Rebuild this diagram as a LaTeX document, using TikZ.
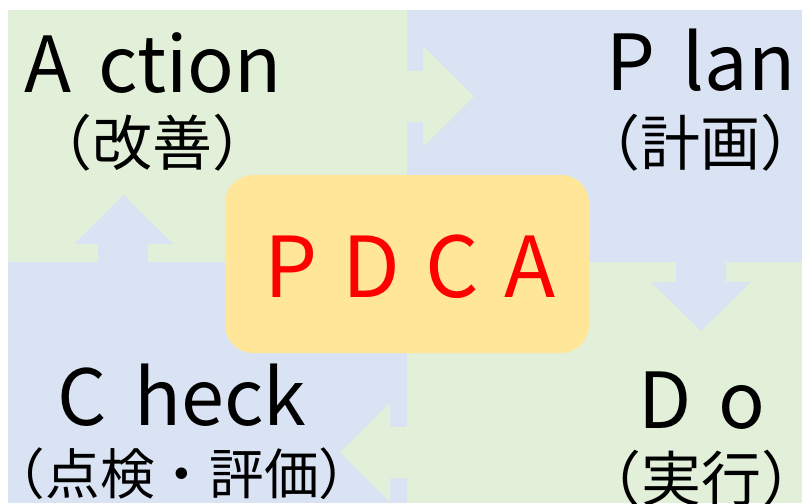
\documentclass[tikz,border=0pt]{standalone}
\usepackage{fontspec}
\setmainfont{Noto Sans CJK JP}
\usetikzlibrary{positioning}
\definecolor{actgreen}{HTML}{E2F0D9}
\definecolor{planblue}{HTML}{DAE3F3}
\definecolor{pdcayellow}{HTML}{FFE699}
\tikzset{
    x=0.75pt,
    y=-0.75pt,
    greenpart/.style = {
        fill=actgreen
    },
    bluepart/.style = {
        fill=planblue
    },
    title/.style = {
        anchor=base,
        inner sep=0pt,
        font=\fontsize{58}{62}\selectfont
    },
    subtitle/.style = {
        anchor=base,
        inner sep=0pt,
        font=\fontsize{45}{50}\selectfont
    },
    centerbox/.style = {
        shape=rectangle,
        fill=pdcayellow,
        rounded corners=21pt,
        minimum width=273pt,
        minimum height=133.5pt
    },
    pdcatext/.style = {
        inner sep=0pt,
        text=red,
        font=\fontsize{63}{67}\selectfont
    },
}

\begin{document}
\begin{tikzpicture}
                \useasboundingbox (0,0) rectangle (802,503);
                % four quarters
                \fill[greenpart] (8,10) rectangle (407,262);
                \fill[bluepart] (407,10) rectangle (802,262);
                \fill[bluepart] (8,262) rectangle (407,503);
                \fill[greenpart] (407,262) rectangle (802,503);

                % block arrows
                \fill[greenpart] (400,71) -- (423,71) -- (423,46) -- (474,96.5)
                -- (423,147) -- (423,122) -- (400,122) -- cycle;
                \fill[bluepart] (676,255) -- (676,282) -- (651,282) -- (701,331)
                -- (751,282) -- (726,282) -- (726,255) -- cycle;
                \fill[greenpart] (414,427) -- (390,427) -- (390,403) -- (340,452.5)
                -- (390,502) -- (390,478) -- (414,478) -- cycle;
                \fill[bluepart] (98,270) -- (98,244) -- (74,244) -- (123.5,195)
                -- (173,244) -- (148,244) -- (148,270) -- cycle;

                \node[centerbox] (box) at (407,264) {};
                \node[pdcatext] (pdca) at (410,267)
                {P\hspace{19pt}D\hspace{19pt}C\hspace{19pt}A};

                \node[title] (act) at (153,92) {A\hspace{0.35em}ction};
                \node[subtitle] (actsub) at (152,165) {（改善）};
                \node[title] (plan) at (701,90) {P\hspace{0.35em}lan};
                \node[subtitle] (plansub) at (700,165) {（計画）};
                \node[title] (check) at (182,425) {C\hspace{0.35em}heck};
                \node[subtitle, font=\fontsize{41}{46}\selectfont] (checksub) at (182,494)
                {（点検・評価）};
                \node[title] (do) at (702,428) {D\hspace{0.35em}o};
                \node[subtitle] (dosub) at (701,501) {（実行）};
            \end{tikzpicture}
\end{document}
